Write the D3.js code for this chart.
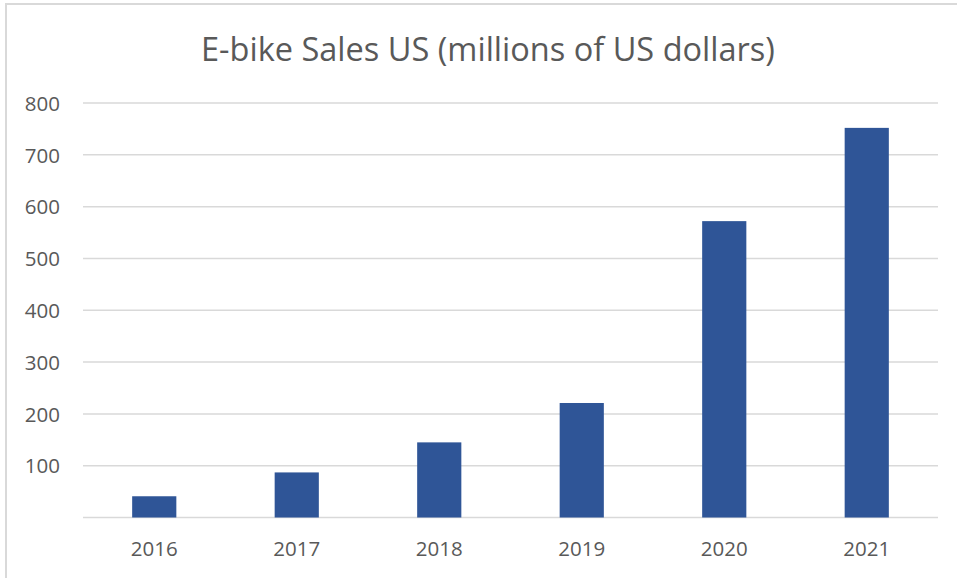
<!DOCTYPE html>
<html>
<head>
<meta charset="utf-8">
<script src="https://cdn.jsdelivr.net/npm/d3@7"></script>
<style>
  html, body { margin: 0; padding: 0; background: #fff; }
  svg { display: block; }
</style>
</head>
<body>
<svg id="chart" width="957" height="578"></svg>
<script>
const title = "E-bike Sales US (millions of US dollars)";
const years = ["2016", "2017", "2018", "2019", "2020", "2021"];
const sales = [41, 87, 145, 221, 572, 752];
const yTicks = [100, 200, 300, 400, 500, 600, 700, 800];
const gridValues = [0, 100, 200, 300, 400, 500, 600, 700, 800];

const W = 957, H = 578;
const plot = { left: 83, right: 938, top: 103, bottom: 517.5 };
const textColor = "#595959";
const gridColor = "#d9d9d9";
const barColor = "#2F5597";
const font = "'Open Sans', 'Liberation Sans', sans-serif";

const svg = d3.select("#chart");

// chart area border (partially cropped)
svg.append("rect")
  .attr("x", 6).attr("y", 4)
  .attr("width", W + 20).attr("height", H + 20)
  .attr("fill", "#fff")
  .attr("stroke", gridColor).attr("stroke-width", 2);

const x = d3.scaleBand()
  .domain(years)
  .range([plot.left, plot.right])
  .paddingInner(0.69)
  .paddingOuter(0.345);

const y = d3.scaleLinear()
  .domain([0, 800])
  .range([plot.bottom, plot.top]);

// gridlines
svg.append("g")
  .selectAll("line")
  .data(gridValues)
  .join("line")
  .attr("x1", plot.left).attr("x2", plot.right)
  .attr("y1", d => y(d)).attr("y2", d => y(d))
  .attr("stroke", gridColor).attr("stroke-width", 1.5);

// bars
svg.append("g")
  .selectAll("rect")
  .data(years.map((yr, i) => ({ yr, v: sales[i] })))
  .join("rect")
  .attr("x", d => x(d.yr))
  .attr("width", x.bandwidth())
  .attr("y", d => y(d.v))
  .attr("height", d => y(0) - y(d.v))
  .attr("fill", barColor);

// y axis labels
const yAxis = d3.axisLeft(y).tickValues(yTicks).tickSize(0).tickPadding(0);
const yg = svg.append("g")
  .attr("transform", `translate(${plot.left - 23},0)`)
  .call(yAxis);
yg.select(".domain").remove();
yg.selectAll("text")
  .attr("fill", textColor)
  .style("font-family", font)
  .style("font-size", "20.5px")
  .attr("dy", "0.35em");

// x axis labels
const xAxis = d3.axisBottom(x).tickSize(0).tickPadding(0);
const xg = svg.append("g")
  .attr("transform", `translate(0,${plot.bottom + 24})`)
  .call(xAxis);
xg.select(".domain").remove();
xg.selectAll("text")
  .attr("fill", textColor)
  .style("font-family", font)
  .style("font-size", "20.5px")
  .attr("dy", "0.71em");

// title
const t = svg.append("text")
  .attr("x", (201 + 775) / 2)
  .attr("y", 61)
  .attr("text-anchor", "middle")
  .attr("fill", textColor)
  .style("font-family", font)
  .style("font-size", "32px")
  .text(title);
const len = t.node().getComputedTextLength();
const target = 574;
t.style("font-size", (32 * target / len).toFixed(2) + "px");
</script>
</body>
</html>
